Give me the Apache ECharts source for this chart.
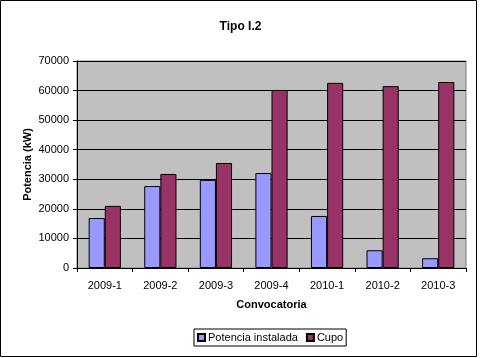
<!DOCTYPE html>
<html><head><meta charset="utf-8">
<script src="https://cdn.jsdelivr.net/npm/echarts@6/dist/echarts.min.js"></script>
<style>html,body{margin:0;padding:0;background:#fff}#c{width:481px;height:358px}</style>
</head><body><div id="c"></div>
<script>
const categories = ['2009-1','2009-2','2009-3','2009-4','2010-1','2010-2','2010-3'];
const potenciaInstalada = [16900, 27700, 29800, 32100, 17600, 6000, 3300];
const cupo = [21000, 31800, 35500, 60200, 62600, 61500, 62900];
const yTicks = {min: 0, max: 70000, interval: 10000};

const chart = echarts.init(document.getElementById('c'), null, {renderer: 'canvas'});
const font = 'Arial, "Liberation Sans", sans-serif';
chart.setOption({
  animation: false,
  backgroundColor: '#fff',
  textStyle: {fontFamily: font},
  graphic: [{type: 'rect', shape: {x: 0.5, y: 0.5, width: 476, height: 356}, style: {fill: 'none', stroke: '#000', lineWidth: 1}, silent: true}],
  title: {text: 'Tipo I.2', left: 'center', top: 16, textStyle: {fontSize: 12, fontWeight: 'bold', color: '#000', fontFamily: font}},
  legend: {
    data: ['Potencia instalada', 'Cupo'], left: 194, top: 329, orient: 'horizontal',
    borderColor: '#000', borderWidth: 1, padding: [3, 3, 3, 3], itemGap: 8,
    itemWidth: 7, itemHeight: 7, icon: 'rect',
    textStyle: {fontSize: 11, color: '#000', fontFamily: font, padding: [0, 0, 0, -2]}
  },
  grid: {left: 77, top: 61, width: 389, height: 207, show: true, backgroundColor: '#C0C0C0', borderColor: '#808080', borderWidth: 1},
  xAxis: {
    type: 'category', data: categories,
    name: 'Convocatoria', nameLocation: 'middle', nameGap: 31, nameMoveOverlap: false,
    nameTextStyle: {fontSize: 11, fontWeight: 'bold', color: '#000', fontFamily: font},
    axisLine: {lineStyle: {color: '#000'}},
    axisTick: {show: true, length: 4, lineStyle: {color: '#000'}},
    axisLabel: {fontSize: 11, color: '#000', margin: 12, fontFamily: font}
  },
  yAxis: {
    type: 'value', min: yTicks.min, max: yTicks.max, interval: yTicks.interval,
    name: 'Potencia (kW)', nameLocation: 'middle', nameGap: 44, nameMoveOverlap: false,
    nameTextStyle: {fontSize: 11, fontWeight: 'bold', color: '#000', fontFamily: font},
    axisLine: {show: true, lineStyle: {color: '#000'}},
    axisTick: {show: true, length: 4, lineStyle: {color: '#000'}},
    axisLabel: {fontSize: 11, color: '#000', margin: 8, fontFamily: font, formatter: v => String(v)},
    splitLine: {show: true, lineStyle: {color: '#000', width: 1}}
  },
  series: [
    {name: 'Potencia instalada', type: 'bar', data: potenciaInstalada, barGap: '0%', barCategoryGap: '42%',
     itemStyle: {color: '#9999FF', borderColor: '#000', borderWidth: 1}},
    {name: 'Cupo', type: 'bar', data: cupo, barGap: '0%', barCategoryGap: '42%',
     itemStyle: {color: '#993366', borderColor: '#000', borderWidth: 1}}
  ]
});
</script></body></html>
